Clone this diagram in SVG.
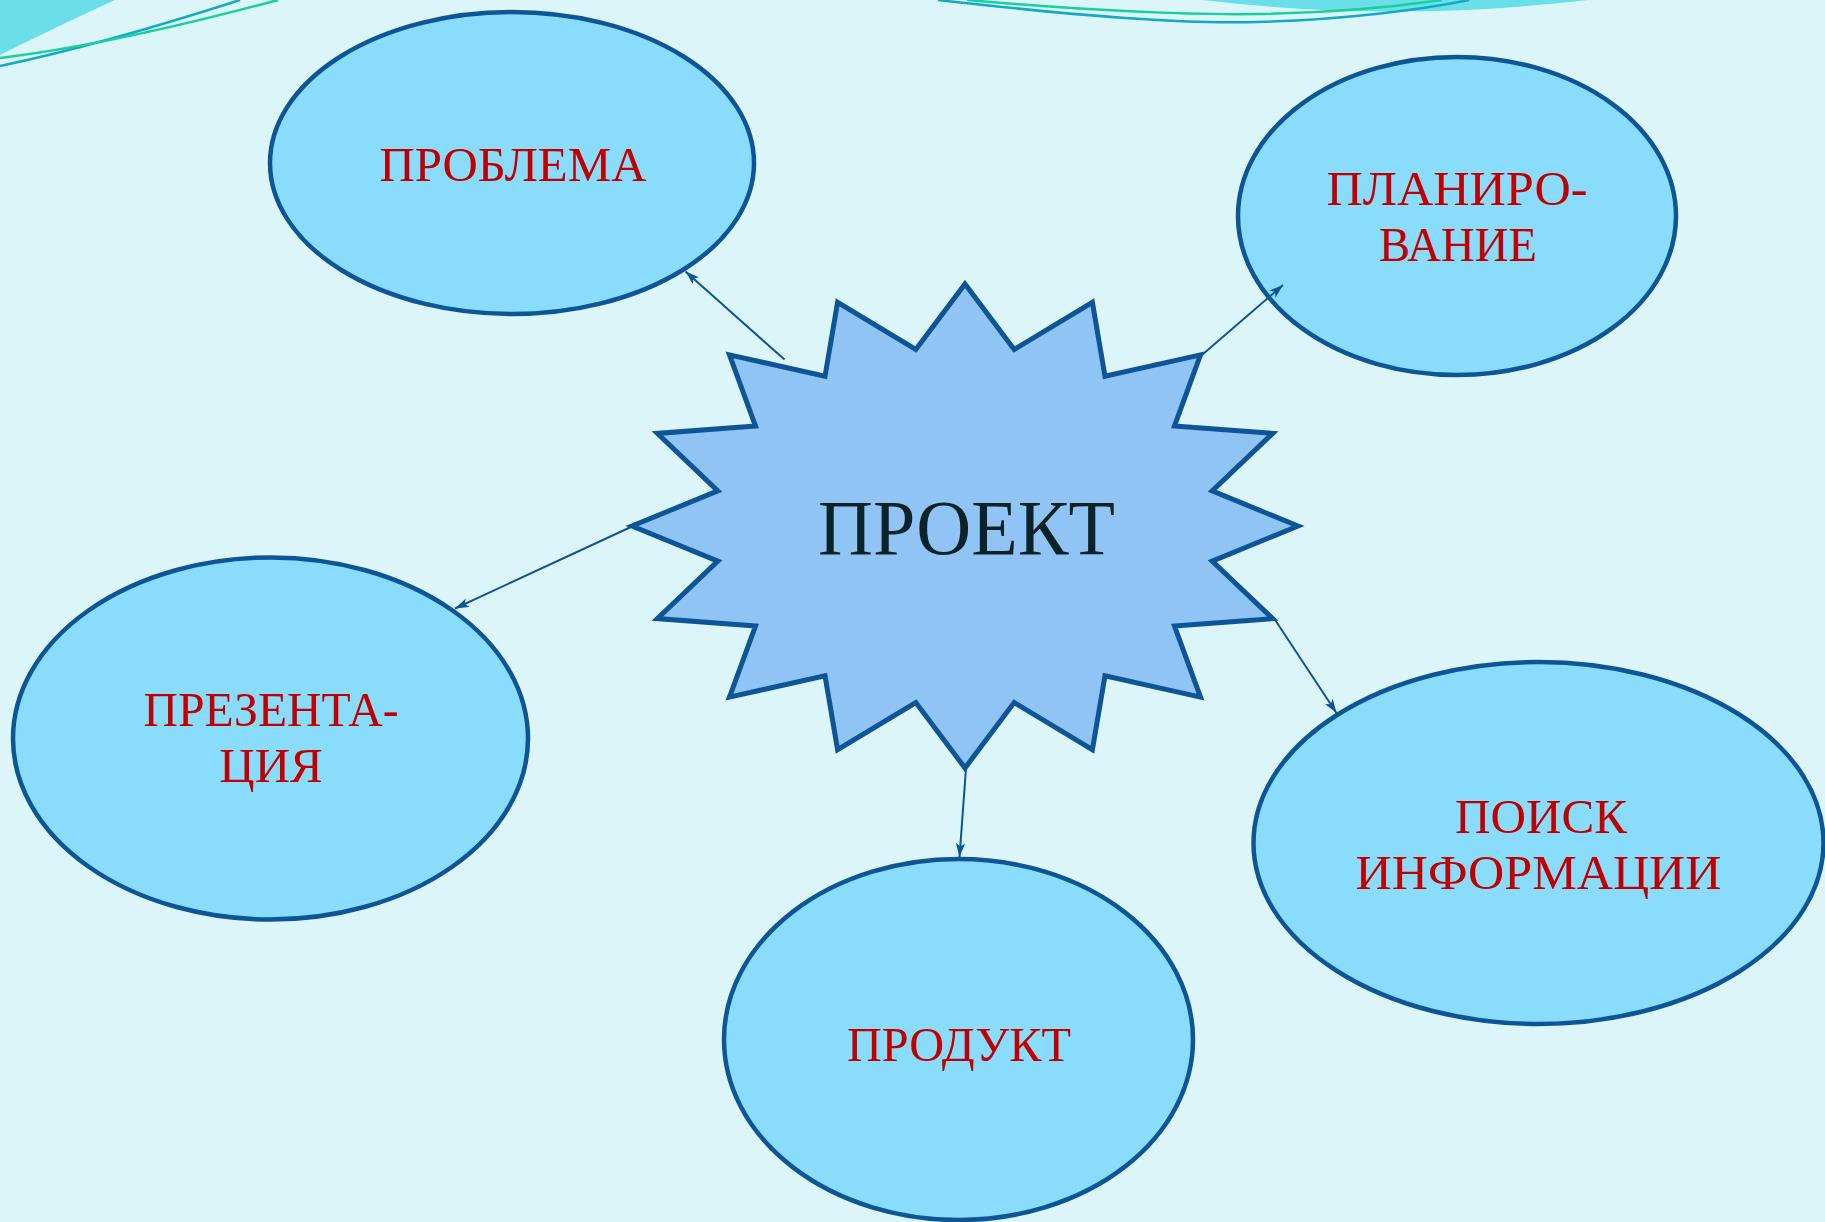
<svg xmlns="http://www.w3.org/2000/svg" width="1825" height="1222" viewBox="0 0 1825 1222">
  <defs>
    <style>
      .bg { fill: #dcf5f9; }
      .deco-fill { fill: #6adfea; }
      .deco-teal { fill: none; stroke: #14a9c2; stroke-width: 2.5; }
      .deco-green { fill: none; stroke: #19cf9c; stroke-width: 2.5; }
      .oval { fill: #89dcfc; stroke: #0d5596; stroke-width: 4.5; }
      .star { fill: #8fc4f5; stroke: #0d5596; stroke-width: 5; stroke-linejoin: miter; }
      .label { font-family: "Liberation Serif", "DejaVu Serif", serif; font-size: 49px; fill: #c00000; text-anchor: middle; }
      .title { font-family: "Liberation Serif", "DejaVu Serif", serif; font-size: 78px; fill: #0b2326; text-anchor: middle; }
      .conn { fill: none; stroke: #0d5596; stroke-width: 2; marker-end: url(#arrow); }
    </style>
    <marker id="arrow" viewBox="0 0 12 8" refX="12" refY="4" markerWidth="14" markerHeight="9.5" markerUnits="userSpaceOnUse" orient="auto">
      <path d="M0,0 L12,4 L0,8 L3,4 Z" fill="#0d5596"/>
    </marker>
  </defs>

  <rect class="bg" x="0" y="0" width="1825" height="1222"/>

  <g id="decoration">
    <path class="deco-fill" d="M0,0 L115,0 Q60,25 0,55 Z"/>
    <path class="deco-teal" d="M0,66 Q100,45 240,0"/>
    <path class="deco-green" d="M0,58 Q110,45 278,0"/>
    <path class="deco-fill" d="M1203,0 Q1392,23 1588,0 Z"/>
    <path class="deco-teal" d="M938,0 C1080,16 1180,24 1257,22 C1340,20 1420,10 1469,0"/>
    <path class="deco-green" d="M967,0 C1080,10 1180,15 1257,14 C1330,13 1400,6 1442,0"/>
  </g>

  <g id="node-problema">
    <ellipse class="oval" cx="512" cy="163" rx="242" ry="151"/>
    <text class="label" x="513" y="181" textLength="267" lengthAdjust="spacingAndGlyphs">ПРОБЛЕМА</text>
  </g>

  <g id="node-planirovanie">
    <ellipse class="oval" cx="1457" cy="216" rx="219" ry="159"/>
    <text class="label" x="1457" y="205" textLength="261" lengthAdjust="spacingAndGlyphs">ПЛАНИРО-</text>
    <text class="label" x="1458" y="260.5" textLength="158" lengthAdjust="spacingAndGlyphs">ВАНИЕ</text>
  </g>

  <g id="node-prezentaciya">
    <ellipse class="oval" cx="270.5" cy="738.5" rx="257.5" ry="181"/>
    <text class="label" x="271" y="726" textLength="255" lengthAdjust="spacingAndGlyphs">ПРЕЗЕНТА-</text>
    <text class="label" x="271" y="781.5">ЦИЯ</text>
  </g>

  <g id="node-poisk">
    <ellipse class="oval" cx="1538.5" cy="843" rx="285" ry="181"/>
    <text class="label" x="1541" y="833" textLength="172" lengthAdjust="spacingAndGlyphs">ПОИСК</text>
    <text class="label" x="1538.5" y="889" textLength="366" lengthAdjust="spacingAndGlyphs">ИНФОРМАЦИИ</text>
  </g>

  <g id="node-produkt">
    <ellipse class="oval" cx="958.5" cy="1039.5" rx="234.5" ry="180.5"/>
    <text class="label" x="959" y="1060.5" textLength="224" lengthAdjust="spacingAndGlyphs">ПРОДУКТ</text>
  </g>

  <g id="node-proekt">
    <polygon class="star" points="1298,526 1212.2,490.9 1272.7,433.4 1174.5,426 1200.5,354.9 1105,376.3 1092.4,302.4 1014.2,349.5 965,284 915.8,349.5 837.6,302.4 825,376.3 729.5,354.9 755.5,426 657.3,433.4 717.8,490.9 632,526 717.8,561.1 657.3,618.6 755.5,626 729.5,697.1 825,675.7 837.6,749.6 915.8,702.5 965,768 1014.2,702.5 1092.4,749.6 1105,675.7 1200.5,697.1 1174.5,626 1272.7,618.6 1212.2,561.1"/>
    <text class="title" x="966.5" y="554" textLength="297" lengthAdjust="spacingAndGlyphs">ПРОЕКТ</text>
  </g>

  <g id="connectors">
    <line class="conn" x1="784.5" y1="359.6" x2="685.5" y2="271.5"/>
    <line class="conn" x1="1202.5" y1="354.5" x2="1283" y2="285"/>
    <line class="conn" x1="632" y1="526.5" x2="455" y2="608.5"/>
    <line class="conn" x1="1274.5" y1="619" x2="1336.5" y2="713"/>
    <line class="conn" x1="966" y1="768.5" x2="959.5" y2="857"/>
  </g>
</svg>
